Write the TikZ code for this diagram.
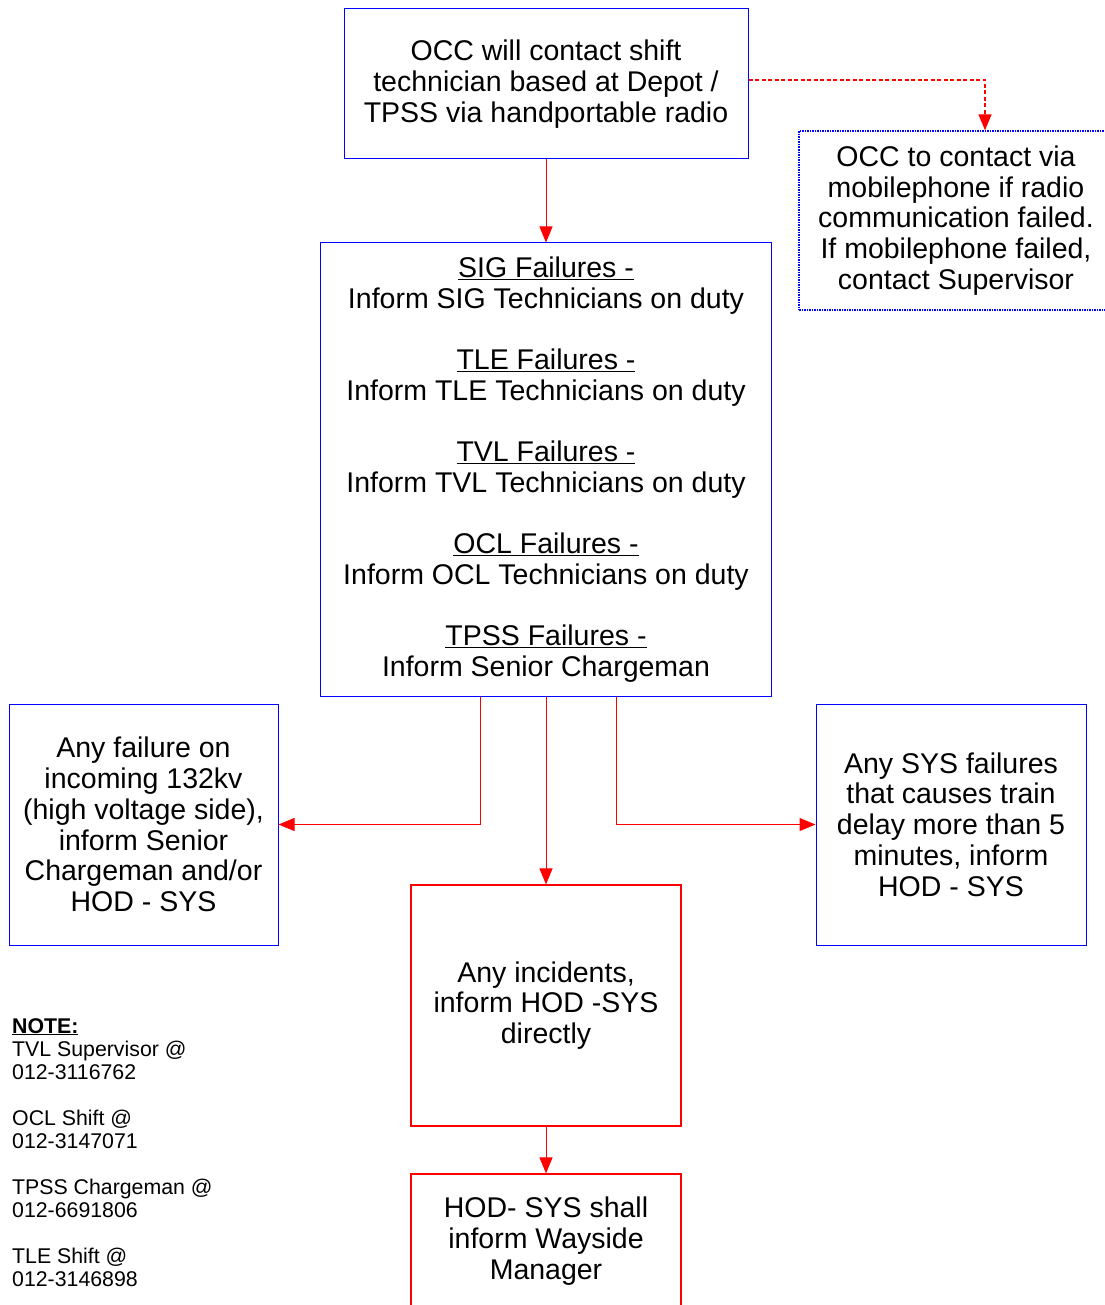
\documentclass[tikz,border=0pt]{standalone}
\usepackage{fontspec}
\setmainfont{Liberation Sans}
\usetikzlibrary{arrows.meta}

\begin{document}
\begin{tikzpicture}[x=1pt,y=-1pt,
        box/.style={line width=1pt,align=center,inner sep=0pt,
            font={\fontsize{28.5}{30.7}\selectfont}},
        bluebox/.style={box,draw=blue},
        redbox/.style={box,draw=red,line width=1.2pt},
        flow/.style={draw=red,line width=1pt,-{Triangle[length=16pt,width=13pt]}}]
        \useasboundingbox (0,0) rectangle (1104,1305);

        \node[bluebox,line width=1.4pt,dash pattern=on 1.5pt off 1pt,minimum width=314,minimum height=179] (mobile) at (956,220.5) {
            OCC to contact via\\
            mobilephone if radio\\
            communication failed.\\
            If mobilephone failed,\\
            contact Supervisor
        };
        \node[bluebox,minimum width=404,minimum height=150] (radio) at (546,84) {
            OCC will contact shift\\
            technician based at Depot /\\
            TPSS via handportable radio
        };

        \node[bluebox,minimum width=451,minimum height=453] (inform) at (546,469.5) {
            \underline{SIG Failures -}\\
            Inform SIG Technicians on duty\\[30.7pt]
            \underline{TLE Failures -}\\
            Inform TLE Technicians on duty\\[30.7pt]
            \underline{TVL Failures -}\\
            Inform TVL Technicians on duty\\[30.7pt]
            \underline{OCL Failures -}\\
            Inform OCL Technicians on duty\\[30.7pt]
            \underline{TPSS Failures -}\\
            Inform Senior Chargeman
        };

        \node[bluebox,minimum width=269,minimum height=241] (highvolt) at (143.5,824.5) {
            Any failure on\\
            incoming 132kv\\
            (high voltage side),\\
            inform Senior\\
            Chargeman and/or\\
            HOD - SYS
        };
        \node[bluebox,minimum width=270,minimum height=241] (delay) at (951,824.5) {
            Any SYS failures\\
            that causes train\\
            delay more than 5\\
            minutes, inform\\
            HOD - SYS
        };
        \node[redbox,minimum width=270,minimum height=241] (incident) at (546,1005.5) {
            Any incidents,\\
            inform HOD -SYS\\
            directly
        };
        \node[redbox,minimum width=270,minimum height=134] (wayside) at (546,1241) {
            HOD- SYS shall\\
            inform Wayside\\
            Manager
        };

        \node[anchor=north west,align=left,inner sep=0pt,
            font={\fontsize{21.3}{23}\selectfont}] (note) at (12,1018) {
            \underline{\textbf{NOTE:}}\\
            TVL Supervisor @\\
            012-3116762\\[23pt]
            OCL Shift @\\
            012-3147071\\[23pt]
            TPSS Chargeman @\\
            012-6691806\\[23pt]
            TLE Shift @\\
            012-3146898
        };

        \draw[flow] (radio) -- (inform);
        \draw[flow,line width=1.3pt,dash pattern=on 4pt off 2.5pt] ([yshift=4pt]radio.east) -| ([xshift=29pt]mobile.north);
        \draw[flow] ([xshift=-66pt]inform.south) |- (highvolt.east);
        \draw[flow] (inform) -- (incident);
        \draw[flow] ([xshift=70pt]inform.south) |- (delay.west);
        \draw[flow] (incident) -- (wayside);
    \end{tikzpicture}
\end{document}
